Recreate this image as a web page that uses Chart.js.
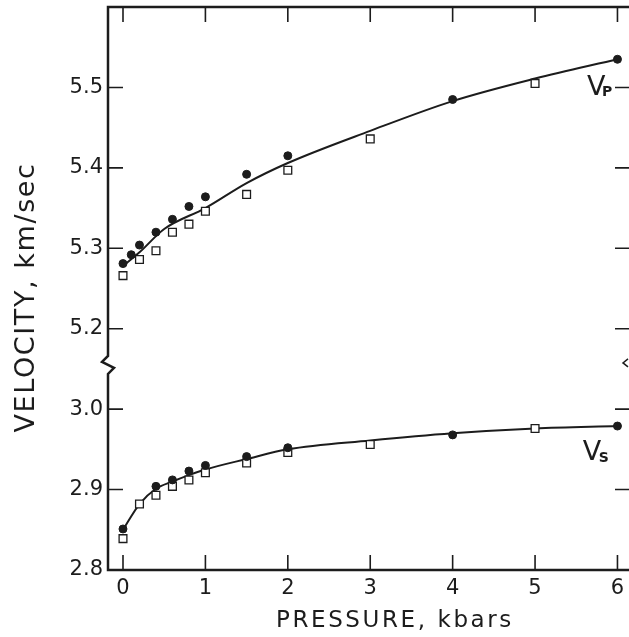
<!DOCTYPE html>
<html>
<head>
<meta charset="utf-8">
<script src="https://cdn.jsdelivr.net/npm/chart.js@4.4.0/dist/chart.umd.min.js"></script>
<style>
html, body { margin: 0; padding: 0; background: #fff; }
</style>
</head>
<body>
<canvas id="myChart" width="629" height="637"></canvas>
<script>
// pressure (kbars) and velocity (km/sec)
var vp_dots_x = [0, 0.1, 0.2, 0.4, 0.6, 0.8, 1.0, 1.5, 2.0, 4.0, 6.0]
var vp_dots_y = [5.281, 5.292, 5.304, 5.320, 5.336, 5.352, 5.364, 5.392, 5.415, 5.485, 5.535]
var vp_boxes_x = [0, 0.2, 0.4, 0.6, 0.8, 1.0, 1.5, 2.0, 3.0, 5.0]
var vp_boxes_y = [5.266, 5.286, 5.297, 5.320, 5.330, 5.346, 5.367, 5.397, 5.436, 5.505]
var vs_dots_x = [0, 0.4, 0.6, 0.8, 1.0, 1.5, 2.0, 4.0, 6.0]
var vs_dots_y = [2.851, 2.904, 2.912, 2.923, 2.930, 2.941, 2.952, 2.968, 2.979]
var vs_boxes_x = [0, 0.2, 0.4, 0.6, 0.8, 1.0, 1.5, 2.0, 3.0, 5.0]
var vs_boxes_y = [2.839, 2.882, 2.893, 2.904, 2.912, 2.921, 2.933, 2.946, 2.956, 2.976]

// hand drawn curves through the data
var vp_fit_x = [0, 0.2, 0.5, 1.0, 1.5, 2.0, 3.0, 4.0, 5.0, 6.0]
var vp_fit_y = [5.278, 5.295, 5.324, 5.350, 5.381, 5.406, 5.446, 5.483, 5.511, 5.535]
var vs_fit_x = [0, 0.2, 0.4, 0.6, 0.8, 1.0, 1.5, 2.0, 3.0, 4.0, 5.0, 6.0]
var vs_fit_y = [2.850, 2.882, 2.901, 2.910, 2.918, 2.925, 2.938, 2.950, 2.961, 2.970, 2.976, 2.979]

var x_ticks = [0, 1, 2, 3, 4, 5, 6]
var y_ticks = [5.5, 5.4, 5.3, 5.2, 3.0, 2.9, 2.8]

var ink = '#1c1c1c'
var font = "'DejaVu Sans', sans-serif"

// the y axis is broken between 3.0 and 5.2, lower part is shifted up
function ty(v) {
    return v > 4 ? v : v + 2.1
}
function untY(v) {
    return v > 5.15 ? v : v - 2.1
}
function pts(xs, ys) {
    let out = []
    for (var i = 0; i < xs.length; i++) {
        out.push({x: xs[i], y: ty(ys[i])})
    }
    return out
}

function dots(xs, ys) {
    return {
        data: pts(xs, ys),
        pointStyle: 'circle',
        pointRadius: 4,
        borderWidth: 1,
        borderColor: ink,
        backgroundColor: ink,
        showLine: false
    }
}
function boxes(xs, ys) {
    return {
        data: pts(xs, ys),
        pointStyle: 'rect',
        pointRadius: 5.5,
        borderWidth: 1.3,
        borderColor: ink,
        backgroundColor: '#fff',
        showLine: false
    }
}
function curve(xs, ys) {
    return {
        data: pts(xs, ys),
        pointRadius: 0,
        borderWidth: 2,
        borderColor: ink,
        showLine: true,
        fill: false,
        cubicInterpolationMode: 'monotone'
    }
}
function noPad(scale) {
    scale.paddingLeft = 0
    scale.paddingRight = 0
    scale.paddingTop = 0
    scale.paddingBottom = 0
}

const framePlugin = {
    id: 'frame',
    afterDraw(chart) {
        const ctx = chart.ctx
        const a = chart.chartArea
        const x = chart.scales.x
        const y = chart.scales.y
        ctx.save()
        ctx.strokeStyle = ink
        ctx.fillStyle = ink
        ctx.lineCap = 'butt'

        // frame: top, left (with break), bottom
        let brk = y.getPixelForValue(5.155)
        ctx.lineWidth = 2.5
        ctx.beginPath()
        ctx.moveTo(a.right + 3, a.top)
        ctx.lineTo(a.left, a.top)
        ctx.lineTo(a.left, brk - 9)
        ctx.lineTo(a.left - 6, brk - 3)
        ctx.lineTo(a.left + 6, brk + 3)
        ctx.lineTo(a.left, brk + 9)
        ctx.lineTo(a.left, a.bottom)
        ctx.lineTo(a.right + 3, a.bottom)
        ctx.stroke()

        // small break mark on the right side
        ctx.lineWidth = 1.5
        ctx.beginPath()
        ctx.moveTo(a.right - 1, brk - 6)
        ctx.lineTo(a.right - 6, brk - 2)
        ctx.lineTo(a.right - 1, brk + 2)
        ctx.stroke()

        // inward ticks
        ctx.lineWidth = 1.6
        ctx.beginPath()
        x_ticks.forEach(function (v) {
            let px = x.getPixelForValue(v)
            ctx.moveTo(px, a.top)
            ctx.lineTo(px, a.top + 15)
            ctx.moveTo(px, a.bottom)
            ctx.lineTo(px, a.bottom - 15)
        })
        y_ticks.forEach(function (v) {
            let py = y.getPixelForValue(ty(v))
            ctx.moveTo(a.left, py)
            ctx.lineTo(a.left + 15, py)
            ctx.moveTo(a.right, py)
            ctx.lineTo(a.right - 14, py)
        })
        ctx.stroke()

        // curve labels
        ctx.textBaseline = 'alphabetic'
        ctx.textAlign = 'left'
        ctx.font = '27px ' + font
        ctx.fillText('V', x.getPixelForValue(5.63), y.getPixelForValue(5.491))
        ctx.fillText('V', x.getPixelForValue(5.58), y.getPixelForValue(ty(2.937)))
        ctx.font = 'bold 14px ' + font
        ctx.fillText('P', x.getPixelForValue(5.63) + 15, y.getPixelForValue(5.489))
        ctx.fillText('S', x.getPixelForValue(5.58) + 16, y.getPixelForValue(ty(2.934)))

        // axis titles
        ctx.textAlign = 'center'
        ctx.textBaseline = 'middle'
        ctx.font = '23px ' + font
        ctx.letterSpacing = '2.6px'
        ctx.fillText('PRESSURE, kbars', x.getPixelForValue(3.3), 621)
        ctx.save()
        ctx.translate(27, (a.top + a.bottom) / 2 + 9)
        ctx.rotate(-Math.PI / 2)
        ctx.font = '27px ' + font
        ctx.letterSpacing = '1.6px'
        ctx.fillText('VELOCITY, km/sec', 0, 0)
        ctx.restore()

        ctx.restore()
    }
}

var ctx = document.getElementById('myChart').getContext('2d')
var myChart = new Chart(ctx, {
    type: 'scatter',
    data: {
        datasets: [
            dots(vp_dots_x, vp_dots_y),
            boxes(vp_boxes_x, vp_boxes_y),
            dots(vs_dots_x, vs_dots_y),
            boxes(vs_boxes_x, vs_boxes_y),
            curve(vp_fit_x, vp_fit_y),
            curve(vs_fit_x, vs_fit_y)
        ]
    },
    options: {
        responsive: false,
        animation: false,
        layout: {autoPadding: false, padding: {top: 7, right: 0, left: 0, bottom: 0}},
        plugins: {
            legend: {display: false},
            tooltip: {enabled: false}
        },
        scales: {
            x: {
                type: 'linear',
                min: -0.182,
                max: 6.14,
                grid: {display: false, drawTicks: false},
                border: {display: false},
                afterBuildTicks: function (scale) {
                    scale.ticks = x_ticks.map(function (v) { return {value: v} })
                },
                afterFit: function (scale) {
                    scale.height = 67
                    noPad(scale)
                },
                ticks: {
                    color: ink,
                    padding: 6,
                    font: {family: font, size: 21},
                    callback: function (v) { return String(v) }
                }
            },
            y: {
                type: 'linear',
                min: 4.9,
                max: 5.6,
                grid: {display: false, drawTicks: false},
                border: {display: false},
                afterBuildTicks: function (scale) {
                    scale.ticks = y_ticks.map(function (v) { return {value: ty(v)} })
                },
                afterFit: function (scale) {
                    scale.width = 108
                    noPad(scale)
                },
                ticks: {
                    color: ink,
                    padding: 5,
                    font: {family: font, size: 21},
                    callback: function (v) { return untY(v).toFixed(1) }
                }
            }
        }
    },
    plugins: [framePlugin]
})
</script>
</body>
</html>
